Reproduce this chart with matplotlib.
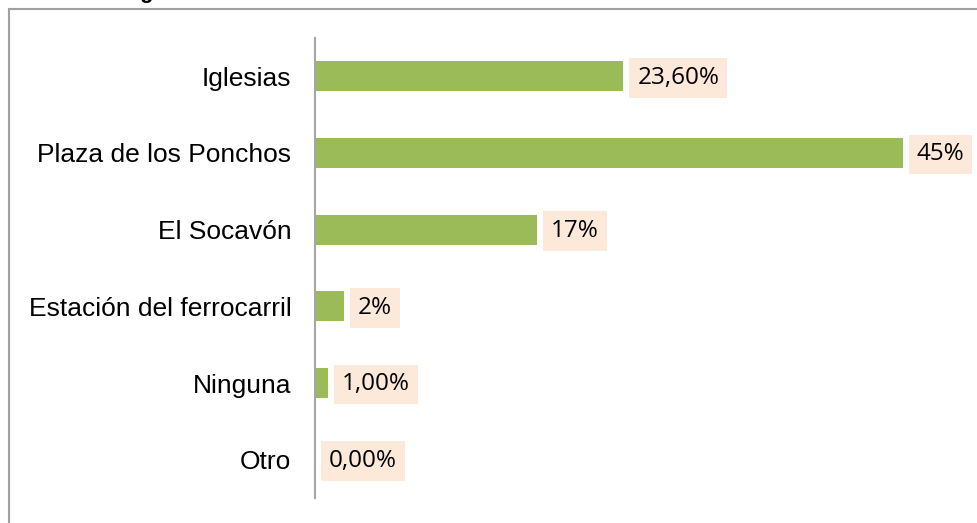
import matplotlib.pyplot as plt
from matplotlib.lines import Line2D

categories = ["Iglesias", "Plaza de los Ponchos", "El Socavón",
              "Estación del ferrocarril", "Ninguna", "Otro"]
values = [23.6, 45, 17, 2.2, 1, 0]
labels = ["23,60%", "45%", "17%", "2%", "1,00%", "0,00%"]

W, H = 977, 523
fig = plt.figure(figsize=(W / 100, H / 100), dpi=100)

# axes in pixel coordinates
left, right, top, bottom = 315, 960, 38, 498
ax = fig.add_axes([left / W, 1 - bottom / H, (right - left) / W, (bottom - top) / H])

px_per_unit = (903 - 315) / 45.0
ax.set_xlim(0, (right - left) / px_per_unit)
ax.set_ylim(len(categories) - 0.5, -0.5)

ypos = list(range(len(categories)))
ax.barh(ypos, values, height=0.39, color="#9BBB59")

for y, v, lab in zip(ypos, values, labels):
    ax.annotate(lab, (v, y), xytext=(10, -1), textcoords="offset points",
                ha="left", va="center", fontsize=17.5, family="Open Sans",
                bbox=dict(boxstyle="square,pad=0.32", fc="#FDE9D9", ec="none"))

ax.set_yticks(ypos)
ax.set_yticklabels(categories, fontsize=19, family="Liberation Sans")
ax.tick_params(axis="y", length=0, pad=17)
ax.set_xticks([])
for s in ["top", "right", "bottom"]:
    ax.spines[s].set_visible(False)
ax.spines["left"].set_color("#A6A6A6")
ax.spines["left"].set_linewidth(1.5)

# outer chart frame (cut at right and bottom)
fig.add_artist(Line2D([9 / W, 9 / W], [0, 1 - 9 / H], color="#A0A0A0", lw=1.5))
fig.add_artist(Line2D([9 / W, 1], [1 - 9 / H, 1 - 9 / H], color="#A0A0A0", lw=1.5))

# clipped heading above the frame
fig.text(139 / W, 1 + 2 / H, "g", fontsize=16, fontweight="bold",
         family="Liberation Sans", va="baseline", ha="left")

fig.savefig("out.png", dpi=100)
